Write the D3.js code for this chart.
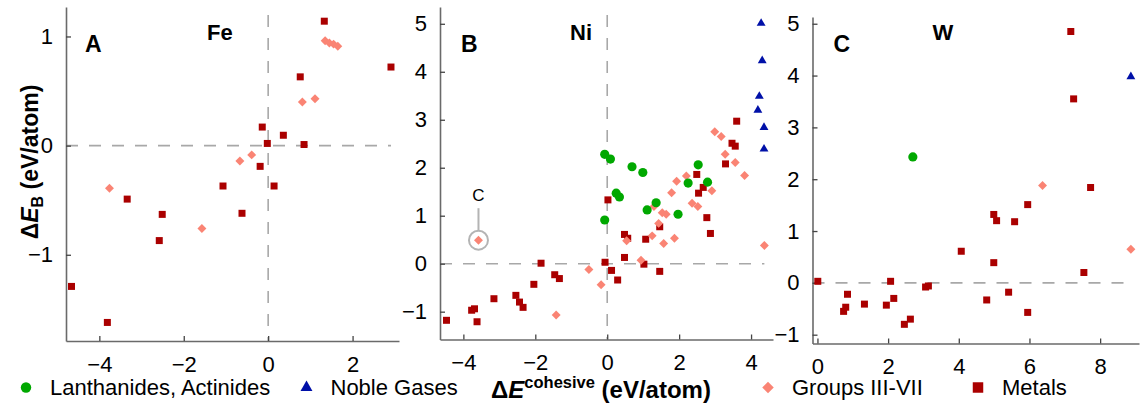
<!DOCTYPE html>
<html>
<head>
<meta charset="utf-8">
<script src="https://cdn.jsdelivr.net/npm/d3@7"></script>
<style>
  body { margin: 0; background: #fff; }
  svg { font-family: "Liberation Sans", Arial, sans-serif; }
</style>
</head>
<body>
<svg id="chart" width="1140" height="413"></svg>
<script>
// points are [dE cohesive, dE_B] in eV/atom
const feMetals = [[1.33,1.14],[2.91,0.72],[0.76,0.63],[-0.14,0.17],[0.36,0.095],[-0.02,0.02],[0.85,0.01],
  [-0.19,-0.19],[-1.07,-0.37],[0.14,-0.37],[-3.34,-0.49],[-2.51,-0.63],[-0.62,-0.62],[-2.58,-0.87],
  [-4.66,-1.29],[-3.81,-1.62]];
const feGroups = [[1.35,0.96],[1.45,0.94],[1.55,0.93],[1.65,0.91],[0.81,0.40],[1.11,0.43],[-0.39,-0.085],
  [-0.67,-0.14],[-3.76,-0.39],[-1.57,-0.76]];
const feLanth = [];
const feNoble = [];

const niNoble = [[4.28,5.01],[4.31,4.23],[4.23,3.49],[4.19,3.20],[4.36,2.84],[4.36,2.39]];
const niLanth = [[-0.07,2.28],[0.09,2.18],[0.69,2.02],[0.99,1.90],[2.53,2.06],[2.25,1.68],[2.79,1.70],
  [0.25,1.47],[0.34,1.39],[1.36,1.27],[1.11,1.12],[1.97,1.03],[-0.07,0.91]];
const niMetals = [[3.6,2.97],[3.47,2.51],[3.56,2.45],[3.29,2.08],[2.49,1.86],[2.67,1.59],[2.54,1.47],
  [0.02,1.33],[1.46,0.77],[2.77,0.96],[2.87,0.63],[0.48,0.61],[0.57,0.53],[1.07,0.51],[0.48,0.13],
  [1.02,-0.01],[-0.06,0.03],[0.12,-0.14],[1.46,-0.16],[0.29,-0.34],[-1.84,0.01],[-1.46,-0.23],
  [-1.33,-0.31],[-2.04,-0.43],[-3.15,-0.73],[-2.54,-0.66],[-2.44,-0.80],[-2.34,-0.91],[-3.77,-0.97],
  [-3.69,-0.94],[-4.47,-1.18],[-3.62,-1.21]];
const niGroups = [[2.99,2.75],[3.17,2.65],[3.28,2.28],[3.56,2.11],[3.82,1.84],[2.2,1.83],[1.93,1.72],
  [2.91,1.52],[1.79,1.48],[1.30,1.19],[1.53,1.06],[1.64,1.03],[2.36,1.26],[2.52,1.19],[1.43,0.84],
  [0.54,0.48],[1.25,0.58],[1.57,0.42],[1.87,0.53],[4.37,0.38],[0.94,0.07],[-0.17,-0.44],[-0.51,-0.12],
  [-1.42,-1.07],[-3.58,0.49]];
const niCarbon = [-3.58, 0.49];

const wLanth = [[2.70,2.43]];
const wNoble = [[8.87,3.98]];
const wMetals = [[7.17,4.85],[7.25,3.55],[7.73,1.84],[5.95,1.51],[4.99,1.32],[5.07,1.20],[5.58,1.18],
  [4.07,0.61],[4.99,0.39],[7.54,0.20],[5.41,-0.18],[4.79,-0.33],[5.95,-0.57],[0.01,0.03],[2.07,0.03],
  [3.06,-0.08],[3.14,-0.06],[0.85,-0.22],[2.16,-0.30],[0.80,-0.47],[0.74,-0.55],[1.33,-0.41],
  [1.95,-0.43],[2.46,-0.80],[2.63,-0.70]];
const wGroups = [[6.37,1.88],[8.87,0.65]];

const aTicksX = [-4,-2,0,2], aTicksY = [-1,0,1];
const bTicksX = [-4,-2,0,2,4], bTicksY = [-1,0,1,2,3,4,5];
const cTicksX = [0,2,4,6,8], cTicksY = [-1,0,1,2,3,4,5];

const legendLabels = ["Lanthanides, Actinides", "Noble Gases", "Groups III-VII", "Metals"];

const colors = { lanth: "#00a800", noble: "#0010a8", groups: "#fa8474", metals: "#aa0000" };

const svg = d3.select("#chart");

// panel layout
const panels = [
  { letter: "A", elem: "Fe", left: 66, right: 399, top: 7, bottom: 341, xd: [-4.79, 3.1], yd: [-1.79, 1.27],
    xt: aTicksX, yt: aTicksY, vline: true, letterDx: 19, elemDx: 141,
    sets: { metals: feMetals, groups: feGroups, lanth: feLanth, noble: feNoble } },
  { letter: "B", elem: "Ni", left: 440, right: 773, top: 7, bottom: 339.5, xd: [-4.65, 4.61], yd: [-1.58, 5.35],
    xt: bTicksX, yt: bTicksY, vline: true, letterDx: 21, elemDx: 130,
    sets: { metals: niMetals, groups: niGroups, lanth: niLanth, noble: niNoble } },
  { letter: "C", elem: "W", left: 812.5, right: 1139, top: 17, bottom: 343.5, xd: [-0.14, 9.1], yd: [-1.17, 5.13],
    xt: cTicksX, yt: cTicksY, vline: false, letterDx: 21, elemDx: 120,
    sets: { metals: wMetals, groups: wGroups, lanth: wLanth, noble: wNoble } }
];

const shapes = {
  metals: d3.symbol(d3.symbolSquare, 49),
  groups: d3.symbol(d3.symbolSquare, 40),
  lanth: d3.symbol(d3.symbolCircle, 66),
  noble: d3.symbol(d3.symbolTriangle, 34)
};
const rot = { metals: 0, groups: 45, lanth: 0, noble: 0 };
const fmt = d3.format("d");

panels.forEach(p => {
  const x = d3.scaleLinear().domain(p.xd).range([p.left, p.right]);
  const y = d3.scaleLinear().domain(p.yd).range([p.bottom, p.top]);
  const g = svg.append("g");

  const all = [].concat(p.sets.metals, p.sets.groups, p.sets.lanth, p.sets.noble);
  const xmax = d3.max(all, d => d[0]);

  // zero reference lines
  g.append("line")
    .attr("x1", p.left).attr("x2", x(xmax))
    .attr("y1", y(0)).attr("y2", y(0))
    .attr("stroke", "#a8a8a8").attr("stroke-width", 1.6)
    .attr("stroke-dasharray", "12,11");
  if (p.vline) {
    g.append("line")
      .attr("x1", x(0)).attr("x2", x(0))
      .attr("y1", p.top + 8).attr("y2", p.bottom)
      .attr("stroke", "#a8a8a8").attr("stroke-width", 1.6)
      .attr("stroke-dasharray", "12,11");
  }

  const xAxis = g.append("g")
    .attr("transform", `translate(0,${p.bottom})`)
    .call(d3.axisBottom(x).tickValues(p.xt).tickFormat(fmt).tickSizeInner(-5).tickSizeOuter(0).tickPadding(15));
  const yAxis = g.append("g")
    .attr("transform", `translate(${p.left},0)`)
    .call(d3.axisLeft(y).tickValues(p.yt).tickFormat(fmt).tickSizeInner(-5).tickSizeOuter(0).tickPadding(13));

  [xAxis, yAxis].forEach(ax => {
    ax.select(".domain").attr("stroke", "#6a6a6a").attr("stroke-width", 1.6);
    ax.selectAll(".tick line").attr("stroke", "#444").attr("stroke-width", 1.3);
    ax.selectAll(".tick text").attr("fill", "#000")
      .style("font-size", "22px").style("font-family", "'Liberation Sans', Arial, sans-serif");
  });

  ["metals", "groups", "lanth", "noble"].forEach(k => {
    g.selectAll(null)
      .data(p.sets[k])
      .enter()
      .append("path")
      .attr("d", shapes[k])
      .attr("transform", d => `translate(${x(d[0])},${y(d[1])}) rotate(${rot[k]})`)
      .attr("fill", colors[k]);
  });

  g.append("text")
    .attr("x", p.left + p.letterDx).attr("y", 52)
    .attr("font-size", 23).attr("font-weight", "bold")
    .text(p.letter);
  g.append("text")
    .attr("x", p.left + p.elemDx).attr("y", 40)
    .attr("font-size", 22).attr("font-weight", "bold")
    .text(p.elem);

  // carbon annotation in Ni panel
  if (p.letter === "B") {
    const cx = x(niCarbon[0]), cy = y(niCarbon[1]);
    g.append("circle")
      .attr("cx", cx).attr("cy", cy).attr("r", 9.5)
      .attr("fill", "none").attr("stroke", "#b4b4b4").attr("stroke-width", 2);
    g.append("line")
      .attr("x1", cx).attr("x2", cx)
      .attr("y1", cy - 9.5).attr("y2", cy - 32)
      .attr("stroke", "#b4b4b4").attr("stroke-width", 2);
    g.append("text")
      .attr("x", cx).attr("y", cy - 39)
      .attr("text-anchor", "middle")
      .attr("font-size", 17)
      .text("C");
  }
});

// y axis title
const yt = svg.append("text")
  .attr("transform", "translate(38,162) rotate(-90)")
  .attr("text-anchor", "middle")
  .attr("font-size", 23).attr("font-weight", "bold");
yt.append("tspan").text("Δ");
yt.append("tspan").attr("font-style", "italic").text("E");
yt.append("tspan").attr("font-size", 16).attr("dy", 5).text("B");
yt.append("tspan").attr("dy", -5).text(" (eV/atom)");

// x axis title
const xt = svg.append("text")
  .attr("x", 601).attr("y", 398)
  .attr("text-anchor", "middle")
  .attr("font-size", 24).attr("font-weight", "bold");
xt.append("tspan").text("Δ");
xt.append("tspan").attr("font-style", "italic").text("E");
xt.append("tspan").attr("font-size", 16.5).attr("dy", -10).text("cohesive");
xt.append("tspan").attr("dy", 10).text(" (eV/atom)");

// legend
const legendKeys = ["lanth", "noble", "groups", "metals"];
const legendX = [26, 306.5, 768, 978];
const legendShapes = {
  lanth: d3.symbol(d3.symbolCircle, 85),
  noble: d3.symbol(d3.symbolTriangle, 62),
  groups: d3.symbol(d3.symbolSquare, 66),
  metals: d3.symbol(d3.symbolSquare, 110)
};
const leg = svg.append("g");
legendKeys.forEach((k, i) => {
  leg.append("path")
    .attr("d", legendShapes[k])
    .attr("transform", `translate(${legendX[i]},387.5) rotate(${rot[k]})`)
    .attr("fill", colors[k]);
  leg.append("text")
    .attr("x", legendX[i] + 24).attr("y", 395)
    .attr("font-size", 22)
    .text(legendLabels[i]);
});
</script>
</body>
</html>
